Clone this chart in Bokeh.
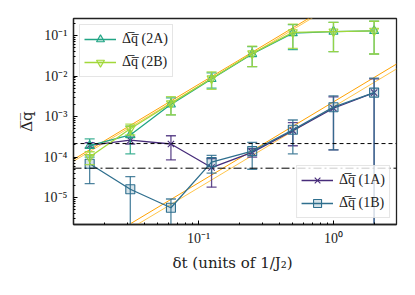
import numpy as np
from bokeh.plotting import figure
from bokeh.models import (ColumnDataSource, Legend, LegendItem, Span, FixedTicker,
                          CustomJSTickFormatter, Range1d)
from bokeh.embed import file_html
from bokeh.resources import INLINE

# ---------------- data ----------------
dt = [1/64, 1/32, 1/16, 1/8, 1/4, 1/2, 1, 2]

q_1A = [1.95e-4, 2.6e-4, 2.1e-4, 5.5e-5, 1.3e-4, 4.5e-4, 1.6e-3, 3.9e-3]
err_1A = [3e-5, 5e-5, 1.25e-4, 3.7e-5, 3e-5, 2.6e-4, 1.45e-3, 4.6e-3]

q_1B = [6.8e-5, 1.6e-5, 5.6e-6, 7.5e-5, 1.4e-4, 4.7e-4, 1.7e-3, 3.9e-3]
err_1B = [4.6e-5, 1.7e-5, 3.6e-6, 3.5e-5, 9e-5, 3.5e-4, 1.55e-3, 5.0e-3]

q_2A = [1.9e-4, 3.5e-4, 2.0e-3, 8.5e-3, 3.5e-2, 0.115, 0.125, 0.13]
err_2A = [9e-5, 2.3e-4, 9e-4, 3.5e-3, 1.8e-2, 7.0e-2, 8.5e-2, 9.5e-2]

q_2B = [1.0e-4, 5.0e-4, 2.1e-3, 8.7e-3, 3.6e-2, 0.12, 0.125, 0.13]
err_2B = [3.5e-5, 1.5e-4, 1.0e-3, 4.0e-3, 1.9e-2, 7.2e-2, 8.5e-2, 9.5e-2]

hline_dashed = 2.15e-4
hline_dashdot = 5.3e-5

# reference slopes (C * dt^2)
fit_upper = [0.62, 0.56]
fit_lower = [2.3e-3, 1.74e-3]
fit_power = 2

labels = ["Δ̅q̅ (1A)", "Δ̅q̅ (1B)", "Δ̅q̅ (2A)", "Δ̅q̅ (2B)"]
major_ticks = [1e-6, 1e-5, 1e-4, 1e-3, 1e-2, 1e-1, 1e0, 1e1]

# ---------------- figure ----------------
x_lo, x_hi = 0.01186, 2.93
y_lo, y_hi = 2.16e-6, 0.263

p = figure(frame_width=323, frame_height=206,
           x_axis_type="log", y_axis_type="log",
           x_range=Range1d(x_lo, x_hi), y_range=Range1d(y_lo, y_hi),
           output_backend="svg", toolbar_location=None,
           min_border_left=73, min_border_right=11,
           min_border_top=18, min_border_bottom=62)
p.background_fill_color = "white"
p.border_fill_color = "white"
p.outline_line_color = "#222222"
p.outline_line_width = 1.3
p.xgrid.visible = False
p.ygrid.visible = False

minor = [m * 10.0 ** e for e in range(-7, 2) for m in range(2, 10)]
fmt = CustomJSTickFormatter(code="""
const e = Math.round(Math.log10(tick));
const sup = {'-':'\u207b','0':'\u2070','1':'\u00b9','2':'\u00b2','3':'\u00b3','4':'\u2074',
             '5':'\u2075','6':'\u2076','7':'\u2077','8':'\u2078','9':'\u2079'};
return '10' + String(e).split('').map(c => sup[c]).join('');
""")
for ax in (p.xaxis[0], p.yaxis[0]):
    ax.ticker = FixedTicker(ticks=major_ticks, minor_ticks=minor)
    ax.formatter = fmt
    ax.major_tick_in = 4
    ax.major_tick_out = 0
    ax.minor_tick_in = 2
    ax.minor_tick_out = 0
    ax.axis_line_color = "#222222"
    ax.axis_line_width = 1.3
    ax.major_label_text_font = "Liberation Serif"
    ax.major_label_text_font_size = "14px"
    ax.major_label_text_color = "#222222"
    ax.axis_label_text_font = "DejaVu Serif"
    ax.axis_label_text_font_style = "normal"
    ax.axis_label_text_font_size = "15px"
    ax.axis_label_text_color = "#222222"

p.xaxis.axis_label = "δt  (units of 1/J₂)"
p.yaxis.axis_label = "Δ̅q̅"
p.xaxis.major_label_standoff = 6
p.yaxis.major_label_standoff = 6

# ---------------- reference lines ----------------
xs_fit = np.array([x_lo, x_hi])
fit_colors = ["#ffa200", "#ffc54a"]
for c, col in zip(fit_upper, fit_colors):
    p.line(xs_fit, c * xs_fit ** fit_power, line_color=col, line_width=1)
for c, col in zip(fit_lower, fit_colors):
    p.line(xs_fit, c * xs_fit ** fit_power, line_color=col, line_width=1)

p.add_layout(Span(location=hline_dashed, dimension="width", line_color="black",
                  line_width=1, line_dash="4 3"))
p.add_layout(Span(location=hline_dashdot, dimension="width", line_color="black",
                  line_width=1, line_dash="8 3 2 3"))

# ---------------- series ----------------
series = [
    (q_1A, err_1A, "#472c7a", "x", labels[0]),
    (q_1B, err_1B, "#2f6f8e", "square", labels[1]),
    (q_2A, err_2A, "#21a585", "triangle", labels[2]),
    (q_2B, err_2B, "#a2d83a", "inverted_triangle", labels[3]),
]
items = {}
for q, e, col, mk, lab in series:
    q = np.array(q); e = np.array(e); x = np.array(dt)
    lower = np.maximum(q - e, 1e-12)
    upper = q + e
    src = ColumnDataSource(dict(x=x, q=q, lo=lower, hi=upper))
    p.segment(x0="x", y0="lo", x1="x", y1="hi", source=src, line_color=col,
              line_width=1.3, line_alpha=0.85)
    p.scatter(x="x", y="hi", source=src, marker="dash", size=10, line_color=col,
              line_width=1.3, line_alpha=0.85)
    p.scatter(x="x", y="lo", source=src, marker="dash", size=10, line_color=col,
              line_width=1.3, line_alpha=0.85)
    lr = p.line(x="x", y="q", source=src, line_color=col, line_width=1.3)
    mr = p.scatter(x="x", y="q", source=src, marker=mk, size=9, line_color=col,
                   fill_color=col, fill_alpha=0.2, line_width=1.1)
    items[lab] = LegendItem(label=lab, renderers=[lr, mr])

def make_legend(labs, loc):
    leg = Legend(items=[items[l] for l in labs], location=loc)
    leg.label_text_font = "Liberation Serif"
    leg.label_text_font_size = "14px"
    leg.label_text_color = "#222222"
    leg.glyph_width = 32
    leg.glyph_height = 20
    leg.label_height = 20
    leg.spacing = 3
    leg.padding = 4
    leg.margin = 6
    leg.label_standoff = 6
    leg.border_line_color = "#cccccc"
    leg.border_line_width = 1
    leg.background_fill_alpha = 0.8
    return leg

p.add_layout(make_legend([labels[2], labels[3]], "top_left"))
p.add_layout(make_legend([labels[0], labels[1]], "bottom_right"))

open("out.html", "w").write(file_html(p, INLINE))
